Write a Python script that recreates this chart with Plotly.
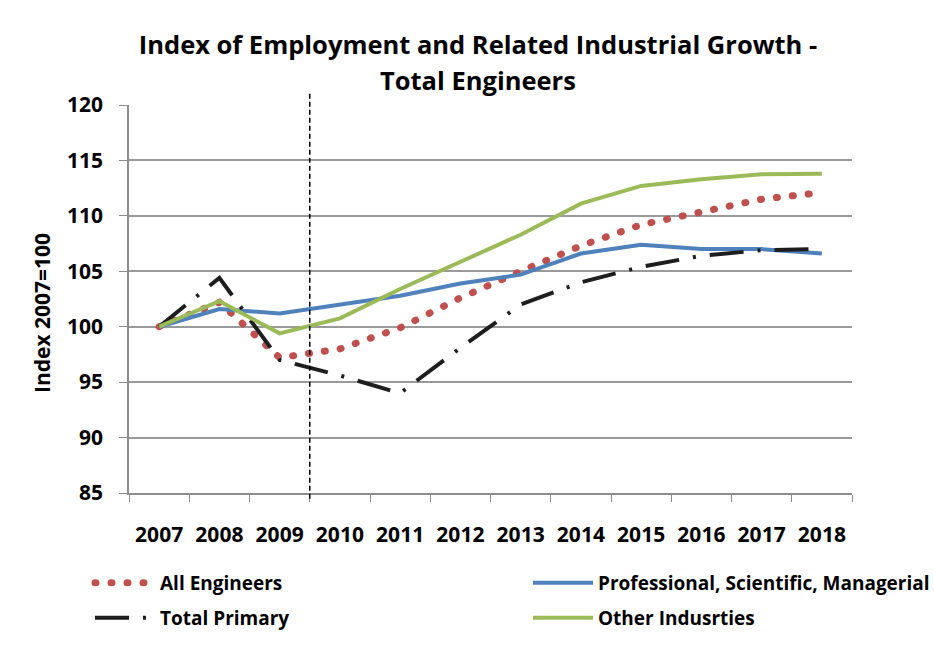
import plotly.graph_objects as go

years = ["2007", "2008", "2009", "2010", "2011", "2012", "2013", "2014", "2015", "2016", "2017", "2018"]
all_engineers = [100, 102.2, 97.2, 98.0, 99.9, 102.6, 105.0, 107.3, 109.2, 110.4, 111.5, 112.1]
professional = [100, 101.6, 101.2, 102.0, 102.8, 103.9, 104.7, 106.6, 107.4, 107.0, 107.0, 106.6]
total_primary = [100, 104.4, 97.0, 95.6, 94.0, 98.1, 102.0, 104.0, 105.4, 106.4, 106.9, 107.0]
other_industries = [100, 102.3, 99.4, 100.75, 103.4, 105.9, 108.3, 111.1, 112.7, 113.3, 113.75, 113.8]

y_ticks = [85, 90, 95, 100, 105, 110, 115, 120]

FONT = "Open Sans"
RED = "#C0504D"
BLUE = "#4F81BD"
GREEN = "#9BBB59"
BLACK = "#1E1E1E"

fig = go.Figure()
fig.add_trace(go.Scatter(x=years, y=all_engineers, mode="lines", name="All Engineers",
                         line=dict(color=RED, width=7, dash="1px,15px"), legend="legend"))
fig.add_trace(go.Scatter(x=years, y=professional, mode="lines", name="Professional, Scientific, Managerial",
                         line=dict(color=BLUE, width=4), legend="legend2"))
fig.add_trace(go.Scatter(x=years, y=total_primary, mode="lines", name="Total Primary",
                         line=dict(color=BLACK, width=4, dash="34px,14px,3px,14px"), legend="legend3"))
fig.add_trace(go.Scatter(x=years, y=other_industries, mode="lines", name="Other Indusrties",
                         line=dict(color=GREEN, width=4), legend="legend4"))

# vertical dashed separator between 2009 and 2010
fig.add_shape(type="line", xref="x", yref="paper", x0=2.5, x1=2.5, y0=-0.015, y1=1.035,
              line=dict(color="black", width=1.5, dash="5px,3px"))

legend_common = dict(orientation="v", xref="container", yref="container", xanchor="left", yanchor="middle",
                     font=dict(family=FONT, size=19, color="black", weight="bold"), bgcolor="rgba(0,0,0,0)",
                     itemwidth=60, traceorder="normal")

PLOT_H = 651 - 105 - 158

fig.update_layout(
    width=934, height=651,
    paper_bgcolor="white", plot_bgcolor="white",
    margin=dict(l=129, r=82, t=105, b=158, autoexpand=False),
    font=dict(family=FONT, color="black"),
    title=dict(text="<b>Index of Employment and Related Industrial Growth -</b>",
               xref="container", x=478/934, xanchor="center",
               yref="container", y=1 - 45/651, yanchor="middle",
               font=dict(family=FONT, size=25.5, color="black", weight="bold")),
    xaxis=dict(type="category", range=[-0.5, 11.5], showgrid=False, automargin=False,
               showline=True, linecolor="#8C8C8C", linewidth=1.5, tickangle=0,
               ticks="outside", ticklen=7, tickcolor="#8C8C8C", tickwidth=1.2, tickson="boundaries",
               tickfont=dict(family=FONT, size=21, color="black", weight="bold"), ticklabelstandoff=22),
    yaxis=dict(range=[85, 120], tickvals=y_ticks, showgrid=True, gridcolor="#9A9A9A", gridwidth=1.5,
               showline=True, linecolor="#8C8C8C", linewidth=1.5, zeroline=False, automargin=False,
               ticks="outside", ticklen=8, tickcolor="#8C8C8C", tickwidth=1.2,
               tickfont=dict(family=FONT, size=21, color="black", weight="bold"), ticklabelstandoff=12),
    annotations=[
        dict(text="<b>Total Engineers</b>", xref="paper", yref="paper", x=(478 - 129) / 723,
             y=(493 - 80) / PLOT_H, xanchor="center", yanchor="middle", showarrow=False,
             font=dict(family=FONT, size=25.5, color="black")),
        dict(text="<b>Index 2007=100</b>", xref="paper", yref="paper", x=(42 - 129) / 723,
             y=(493 - 313) / PLOT_H, xanchor="center", yanchor="middle", textangle=-90, showarrow=False,
             font=dict(family=FONT, size=21, color="black")),
    ],
    legend=dict(x=90/934, y=1 - 583/651, **legend_common),
    legend2=dict(x=528/934, y=1 - 583/651, **legend_common),
    legend3=dict(x=90/934, y=1 - 618/651, **legend_common),
    legend4=dict(x=528/934, y=1 - 618/651, **legend_common),
    showlegend=True,
)

post = """
function roundRed(){
  document.querySelectorAll('path').forEach(function(p){
    if (p.style && p.style.stroke === 'rgb(192, 80, 77)') { p.style.strokeLinecap = 'round'; }
  });
}
roundRed();
var gd = document.getElementById('{plot_id}');
if (gd && gd.on) { gd.on('plotly_afterplot', roundRed); }
setTimeout(roundRed, 50); setTimeout(roundRed, 300);
"""

fig.write_html("out.html", post_script=post)
